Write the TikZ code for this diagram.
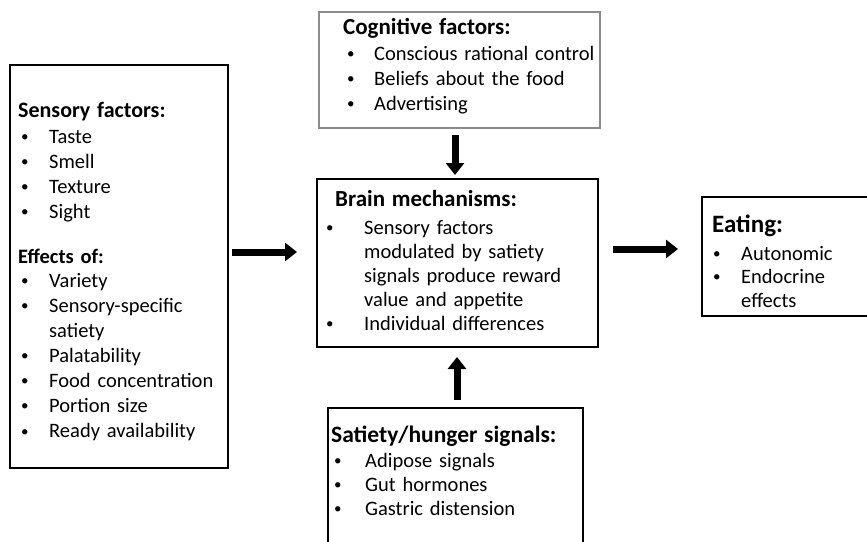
\documentclass[tikz,border=0pt]{standalone}
\usepackage{fontspec}
\setmainfont{Carlito}
\usetikzlibrary{arrows.meta}
\definecolor{cogray}{RGB}{140,140,140}
\newcommand\bodyfs[1]{\fontsize{20.5}{#1}\selectfont}
\newcommand\ttl[2]{{\fontsize{#1}{25}\selectfont\bfseries #2}}
\newcommand\bul{\raisebox{1.6pt}{\fontsize{15}{15}\selectfont •}}
% bullet item: offset of bullet from title, gap bullet->text, text
\newcommand\bitem[3]{\hspace*{#1}\makebox[#2][l]{\bul}#3}
\tikzset{
  frame/.style={draw=black, line width=2.2pt, fill=white, inner sep=0pt,
    outer sep=0pt, anchor=north west},
  txt/.style={inner sep=0pt, anchor=base west, text width=300pt, align=left},
  bigarrow/.style={line width=7pt, -{Triangle[length=12pt,width=18pt]}},
}
\begin{document}
\begin{tikzpicture}[x=1pt,y=-1pt]
\useasboundingbox (0,0) rectangle (867,541);
\clip (0,0) rectangle (867,541);
\fill[white] (0,0) rectangle (867,541);

% boxes
\node[frame, minimum width=218pt, minimum height=403pt] (left) at (10,65) {};
\node[frame, draw=cogray, minimum width=281pt, minimum height=116pt] (cog) at (319,12) {};
\node[frame, minimum width=281pt, minimum height=168pt] (brain) at (317,179) {};
\node[frame, minimum width=180pt, minimum height=119pt] (eat) at (702,197) {};
\node[frame, minimum width=255pt, minimum height=150pt] (sat) at (328,408) {};

% texts
\node[txt, font=\bodyfs{25.1}] (lefttxt) at (18,117) {%
\ttl{22}{Sensory factors:}\\[1pt]
\bitem{3pt}{28pt}{Taste}\\
\bitem{3pt}{28pt}{Smell}\\
\bitem{3pt}{28pt}{Texture}\\
\bitem{3pt}{28pt}{Sight}\\[20.4pt]
\ttl{20.5}{Effects of:}\\[-2pt]
\bitem{3pt}{28pt}{Variety}\\
\bitem{3pt}{28pt}{Sensory-specific}\\
\hspace*{31pt}satiety\\
\bitem{3pt}{28pt}{Palatability}\\
\bitem{3pt}{28pt}{Food concentration}\\
\bitem{3pt}{28pt}{Portion size}\\
\bitem{3pt}{28pt}{Ready availability}};

\node[txt, font=\bodyfs{25}] (cogtxt) at (343,34) {%
\ttl{23}{Cognitive factors:}\\[1pt]
\bitem{4pt}{27pt}{Conscious rational control}\\
\bitem{4pt}{27pt}{Beliefs about the food}\\
\bitem{4pt}{27pt}{Advertising}};

\node[txt, font=\bodyfs{24}] (braintxt) at (335,206) {%
\ttl{23}{Brain mechanisms:}\\[4pt]
\bitem{-9pt}{38pt}{Sensory factors}\\
\hspace*{29pt}modulated by satiety\\
\hspace*{29pt}signals produce reward\\
\hspace*{29pt}value and appetite\\
\bitem{-9pt}{38pt}{Individual differences}};

\node[txt, font=\bodyfs{23.5}] (eattxt) at (712,232) {%
\ttl{25}{Eating:}\\[4.5pt]
\bitem{1pt}{28pt}{Autonomic}\\
\bitem{1pt}{28pt}{Endocrine}\\
\hspace*{29pt}effects};

\node[txt, font=\bodyfs{24}] (sattxt) at (331,442) {%
\ttl{23.5}{Satiety/hunger signals:}\\[1pt]
\bitem{3pt}{31pt}{Adipose signals}\\
\bitem{3pt}{31pt}{Gut hormones}\\
\bitem{3pt}{31pt}{Gastric distension}};

% connectors
\coordinate (lrow) at (0,252);
\coordinate (rrow) at (0,249);
\draw[bigarrow, shorten <=7pt, shorten >=4pt]
  ([xshift=-4.5pt]cog.south) -- ([xshift=-4.5pt]cog.south |- brain.north);
\draw[bigarrow, shorten <=8pt, shorten >=10pt]
  ([xshift=1.5pt]sat.north) -- ([xshift=1.5pt]sat.north |- brain.south);
\draw[bigarrow, shorten <=4pt, shorten >=20pt]
  (left.east |- lrow) -- (brain.west |- lrow);
\draw[bigarrow, shorten <=15pt, shorten >=24pt]
  (brain.east |- rrow) -- (eat.west |- rrow);
\end{tikzpicture}
\end{document}
